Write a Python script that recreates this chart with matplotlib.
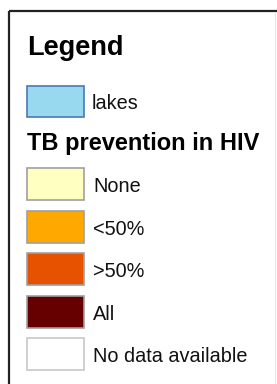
import matplotlib.pyplot as plt
from matplotlib.patches import Rectangle

# legend contents
title = "Legend"
lake_label = "lakes"
lake_color = "#99d9f0"
lake_edge = "#4a78b8"
section_title = "TB prevention in HIV"
labels = ["None", "<50%", ">50%", "All", "No data available"]
colors = ["#ffffc2", "#ffa800", "#e65200", "#660000", "#ffffff"]
edges = ["#a0a0a0", "#a0a0a0", "#a0a0a0", "#a0a0a0", "#c8c8c8"]

plt.rcParams['font.family'] = ['Liberation Sans', 'DejaVu Sans']

fig = plt.figure(figsize=(2.77, 3.84), dpi=100)
ax = fig.add_axes([0, 0, 1, 1])
ax.set_xlim(0, 277)
ax.set_ylim(384, 0)
ax.axis('off')

# frame
ax.plot([9, 277], [11, 11], color="#222222", lw=1.6, solid_capstyle='butt')
ax.plot([9, 9], [11, 384], color="#222222", lw=1.6, solid_capstyle='butt')
ax.plot([275, 275], [12, 384], color="#e6e6e6", lw=0.8)

ax.text(27, 55, title, fontsize=19.5, fontweight='bold', va='baseline', ha='left')

sw_x, sw_w, sw_h = 27, 57, 31
ax.add_patch(Rectangle((sw_x, 86), sw_w, sw_h, facecolor=lake_color,
                       edgecolor=lake_edge, lw=1.2))
ax.text(92, 109, lake_label, fontsize=14.3, va='baseline', ha='left', color="#111111")

ax.text(27, 150, section_title, fontsize=17, fontweight='bold', va='baseline', ha='left')

tops = [168, 211, 253, 296, 338]
for i, lab in enumerate(labels):
    ax.add_patch(Rectangle((sw_x, tops[i]), sw_w, sw_h + 1, facecolor=colors[i],
                           edgecolor=edges[i], lw=1.2))
    ax.text(93, tops[i] + 24, lab, fontsize=14.3, va='baseline', ha='left', color="#111111")

fig.savefig("out.png", dpi=100)
